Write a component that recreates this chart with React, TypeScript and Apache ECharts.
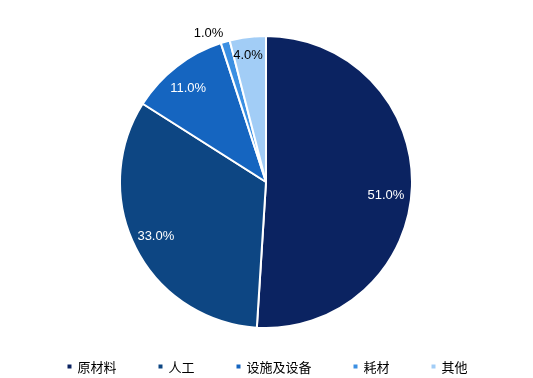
import React, { useEffect, useRef } from "react";
import * as echarts from "echarts";

const categories = ["原材料", "人工", "设施及设备", "耗材", "其他"];
const values = [51.0, 33.0, 11.0, 1.0, 4.0];
const colors = ["#0b2361", "#0d4683", "#1565c0", "#3b8fe2", "#a2cdf6"];
const labelColors = ["#ffffff", "#ffffff", "#ffffff", "#000000", "#000000"];
const labelOffsets: [number, number][] = [[-7, 9], [3, -4], [0, 6], [-22, -28], [-2, -2]];

export default function App() {
  const ref = useRef<HTMLDivElement>(null);
  useEffect(() => {
    if (!ref.current) return;
    const chart = echarts.init(ref.current, null, { renderer: "svg" });
    const center = [266, 182];
    chart.setOption({
      animation: false,
      color: colors,
      legend: {
        bottom: 0,
        left: "center",
        icon: "rect",
        itemWidth: 6,
        itemHeight: 6,
        itemGap: 40,
        textStyle: { fontSize: 13, color: "#000", fontFamily: "Noto Sans CJK SC" },
        data: categories,
      },
      series: [
        {
          type: "pie",
          center,
          radius: [0, 146],
          startAngle: 90,
          clockwise: true,
          label: { show: false },
          labelLine: { show: false },
          itemStyle: { borderColor: "#fff", borderWidth: 2 },
          data: categories.map((c, i) => ({ name: c, value: values[i] })),
        },
        {
          type: "pie",
          center,
          radius: [100, 148],
          startAngle: 90,
          clockwise: true,
          silent: true,
          legendHoverLink: false,
          itemStyle: { color: "transparent" },
          labelLine: { show: false },
          data: categories.map((c, i) => ({
            name: c + " ",
            value: values[i],
            itemStyle: { color: "rgba(0,0,0,0)" },
            label: {
              show: true,
              position: "inside",
              formatter: values[i].toFixed(1) + "%",
              color: labelColors[i],
              fontSize: 13,
              fontFamily: "Liberation Sans",
              offset: labelOffsets[i],
            },
          })),
        },
      ],
    });
    return () => chart.dispose();
  }, []);
  return <div ref={ref} style={{ position: "fixed", left: 0, top: 0, width: 533, height: 378 }} />;
}
